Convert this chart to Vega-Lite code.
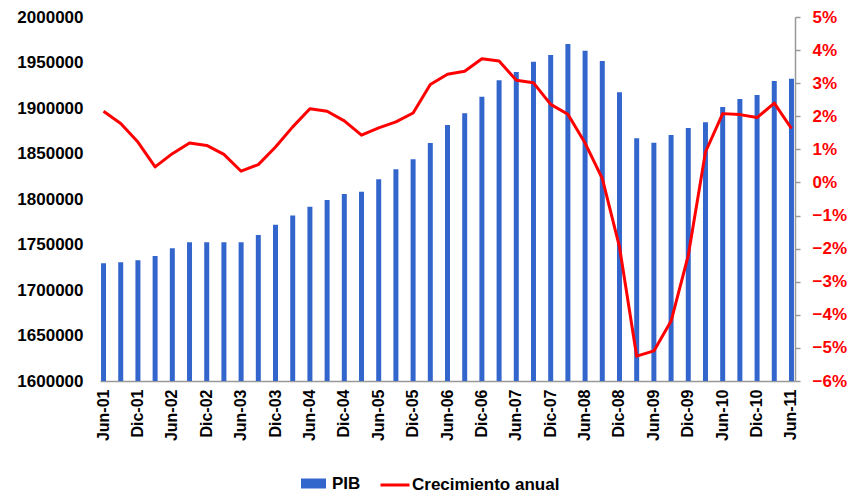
{
  "$schema": "https://vega.github.io/schema/vega-lite/v6.json",
  "width": 695,
  "height": 364,
  "autosize": {"type": "none"},
  "padding": {"left": 100, "top": 17, "right": 54, "bottom": 114},
  "background": "#ffffff",
  "config": {
    "font": "Liberation Sans",
    "view": {"stroke": null},
    "axis": {"grid": false, "labelFont": "Liberation Sans", "labelFontWeight": "bold", "title": null},
    "legend": {"padding": 0, "labelFont": "Liberation Sans", "labelFontWeight": "bold", "labelFontSize": 17, "labelColor": "#000000", "title": null}
  },
  "data": {
    "values": [
      {"q": "Jun-01", "pib": 1729300, "g": 0.0215},
      {"q": "Sep-01", "pib": 1730400, "g": 0.0178},
      {"q": "Dic-01", "pib": 1732600, "g": 0.0122},
      {"q": "Mar-02", "pib": 1737400, "g": 0.0047},
      {"q": "Jun-02", "pib": 1745800, "g": 0.0087},
      {"q": "Sep-02", "pib": 1752400, "g": 0.0119},
      {"q": "Dic-02", "pib": 1752400, "g": 0.0112},
      {"q": "Mar-03", "pib": 1752400, "g": 0.0085},
      {"q": "Jun-03", "pib": 1752400, "g": 0.0034},
      {"q": "Sep-03", "pib": 1760400, "g": 0.0054},
      {"q": "Dic-03", "pib": 1771800, "g": 0.0107},
      {"q": "Mar-04", "pib": 1782000, "g": 0.0168},
      {"q": "Jun-04", "pib": 1791600, "g": 0.0223},
      {"q": "Sep-04", "pib": 1798900, "g": 0.0215},
      {"q": "Dic-04", "pib": 1805500, "g": 0.0186},
      {"q": "Mar-05", "pib": 1808000, "g": 0.0143},
      {"q": "Jun-05", "pib": 1821600, "g": 0.0165},
      {"q": "Sep-05", "pib": 1832600, "g": 0.0183},
      {"q": "Dic-05", "pib": 1843600, "g": 0.0210},
      {"q": "Mar-06", "pib": 1861500, "g": 0.0296},
      {"q": "Jun-06", "pib": 1881300, "g": 0.0327},
      {"q": "Sep-06", "pib": 1894200, "g": 0.0336},
      {"q": "Dic-06", "pib": 1912400, "g": 0.0374},
      {"q": "Mar-07", "pib": 1930400, "g": 0.0367},
      {"q": "Jun-07", "pib": 1939600, "g": 0.0309},
      {"q": "Sep-07", "pib": 1950900, "g": 0.0301},
      {"q": "Dic-07", "pib": 1958200, "g": 0.0236},
      {"q": "Mar-08", "pib": 1970300, "g": 0.0206},
      {"q": "Jun-08", "pib": 1963000, "g": 0.0119},
      {"q": "Sep-08", "pib": 1951600, "g": 0.0012},
      {"q": "Dic-08", "pib": 1917200, "g": -0.0195},
      {"q": "Mar-09", "pib": 1866700, "g": -0.0525},
      {"q": "Jun-09", "pib": 1861900, "g": -0.0509},
      {"q": "Sep-09", "pib": 1870300, "g": -0.0419},
      {"q": "Dic-09", "pib": 1878000, "g": -0.0220},
      {"q": "Mar-10", "pib": 1884300, "g": 0.0092},
      {"q": "Jun-10", "pib": 1901100, "g": 0.0208},
      {"q": "Sep-10", "pib": 1909900, "g": 0.0205},
      {"q": "Dic-10", "pib": 1914300, "g": 0.0196},
      {"q": "Mar-11", "pib": 1929700, "g": 0.0240},
      {"q": "Jun-11", "pib": 1932200, "g": 0.0163}
    ]
  },
  "encoding": {
    "x": {
      "field": "q",
      "type": "nominal",
      "sort": null,
      "scale": {"paddingInner": 0.71, "paddingOuter": 0.06},
      "axis": {
        "values": ["Jun-01","Dic-01","Jun-02","Dic-02","Jun-03","Dic-03","Jun-04","Dic-04","Jun-05","Dic-05","Jun-06","Dic-06","Jun-07","Dic-07","Jun-08","Dic-08","Jun-09","Dic-09","Jun-10","Dic-10","Jun-11"],
        "labelAngle": -90,
        "labelFontSize": 16,
        "labelColor": "#000000",
        "labelPadding": 8,
        "ticks": false,
        "domainColor": "#999999",
        "domainWidth": 1.5
      }
    }
  },
  "layer": [
    {
      "mark": {"type": "bar", "clip": true},
      "encoding": {
        "y": {
          "field": "pib",
          "type": "quantitative",
          "scale": {"domain": [1600000, 2000000], "zero": false, "nice": false},
          "axis": {
            "orient": "left",
            "values": [1600000, 1650000, 1700000, 1750000, 1800000, 1850000, 1900000, 1950000, 2000000],
            "format": "d",
            "domain": false,
            "ticks": false,
            "labelPadding": 17,
            "labelFontSize": 17,
            "labelColor": "#000000"
          }
        },
        "fill": {
          "datum": "PIB",
          "type": "nominal",
          "scale": {"domain": ["PIB"], "range": ["#3366cc"]},
          "legend": {
            "orient": "none",
            "legendX": 201,
            "legendY": 454,
            "symbolType": "M-1,-0.4H1V0.4H-1Z",
            "symbolSize": 625,
            "symbolStrokeWidth": 0,
            "labelOffset": 6
          }
        }
      }
    },
    {
      "mark": {"type": "line", "strokeWidth": 3, "strokeJoin": "round"},
      "encoding": {
        "y": {
          "field": "g",
          "type": "quantitative",
          "scale": {"domain": [-0.06, 0.05], "zero": false, "nice": false},
          "axis": {
            "orient": "right",
            "values": [-0.06, -0.05, -0.04, -0.03, -0.02, -0.01, 0, 0.01, 0.02, 0.03, 0.04, 0.05],
            "format": ".0%",
            "domainColor": "#999999",
            "domainWidth": 1.5,
            "tickColor": "#999999",
            "tickWidth": 1.5,
            "tickSize": 5,
            "labelPadding": 12,
            "labelFontSize": 17,
            "labelColor": "#ff0000"
          }
        },
        "stroke": {
          "datum": "Crecimiento anual",
          "type": "nominal",
          "scale": {"domain": ["Crecimiento anual"], "range": ["#ff0000"]},
          "legend": {
            "orient": "none",
            "legendX": 279,
            "legendY": 452,
            "symbolType": "stroke",
            "symbolSize": 841,
            "symbolStrokeWidth": 3,
            "labelOffset": 1
          }
        }
      }
    }
  ],
  "resolve": {"scale": {"y": "independent", "fill": "independent", "stroke": "independent"}}
}
